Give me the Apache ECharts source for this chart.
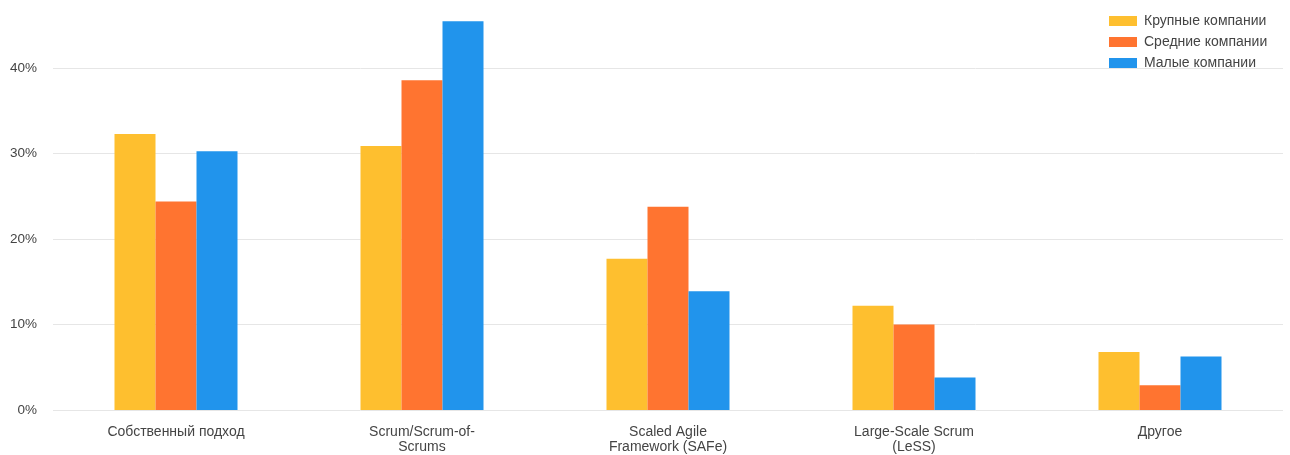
<!DOCTYPE html>
<html>
<head>
<meta charset="utf-8">
<script src="https://cdn.jsdelivr.net/npm/echarts@6/dist/echarts.min.js"></script>
<style>
html,body{margin:0;padding:0;background:#fff;}
#chart{width:1290px;height:455px;}
</style>
</head>
<body>
<div id="chart"></div>
<script>
const categories = ['Собственный подход', 'Scrum/Scrum-of-Scrums', 'Scaled Agile Framework (SAFe)', 'Large-Scale Scrum (LeSS)', 'Другое'];
const tickLabels = ['Собственный подход', 'Scrum/Scrum-of-\nScrums', 'Scaled Agile\nFramework (SAFe)', 'Large-Scale Scrum\n(LeSS)', 'Другое'];
const seriesNames = ['Крупные компании', 'Средние компании', 'Малые компании'];
const large = [32.3, 30.9, 17.7, 12.2, 6.8];
const medium = [24.4, 38.6, 23.8, 10.0, 2.9];
const small = [30.3, 45.5, 13.9, 3.8, 6.25];
const colors = ['#FEBF2F', '#FF7430', '#2194EC'];

const chart = echarts.init(document.getElementById('chart'));
const fontFamily = '"Liberation Sans", Arial, sans-serif';
chart.setOption({
  animation: false,
  color: colors,
  grid: { left: 53, right: 7, top: 17, bottom: 43, containLabel: false },
  legend: {
    orient: 'vertical',
    left: 1104,
    top: 9,
    itemWidth: 28,
    itemHeight: 10,
    itemGap: 7,
    icon: 'rect',
    textStyle: { fontFamily: fontFamily, fontSize: 14, lineHeight: 14, color: '#444', padding: [0, 0, 0, 2] },
    data: seriesNames
  },
  xAxis: {
    type: 'category',
    data: categories,
    axisLine: { show: false },
    axisTick: { show: false },
    axisLabel: {
      interval: 0,
      margin: 15,
      fontFamily: fontFamily,
      fontSize: 14,
      color: '#444',
      lineHeight: 15,
      formatter: (v, i) => tickLabels[i]
    }
  },
  yAxis: {
    type: 'value',
    min: 0,
    max: 46,
    interval: 10,
    axisLine: { show: false },
    axisTick: { show: false },
    splitLine: { show: true, showMaxLine: false, lineStyle: { color: '#e6e6e6', width: 1 } },
    axisLabel: {
      margin: 16,
      fontFamily: fontFamily,
      fontSize: 13.5,
      color: '#444',
      showMaxLabel: false,
      formatter: v => (v % 10 === 0 ? v + '%' : '')
    }
  },
  series: [
    { name: seriesNames[0], type: 'bar', data: large, barGap: '0%', barCategoryGap: '50%' },
    { name: seriesNames[1], type: 'bar', data: medium, barGap: '0%', barCategoryGap: '50%' },
    { name: seriesNames[2], type: 'bar', data: small, barGap: '0%', barCategoryGap: '50%' }
  ]
});
</script>
</body>
</html>
